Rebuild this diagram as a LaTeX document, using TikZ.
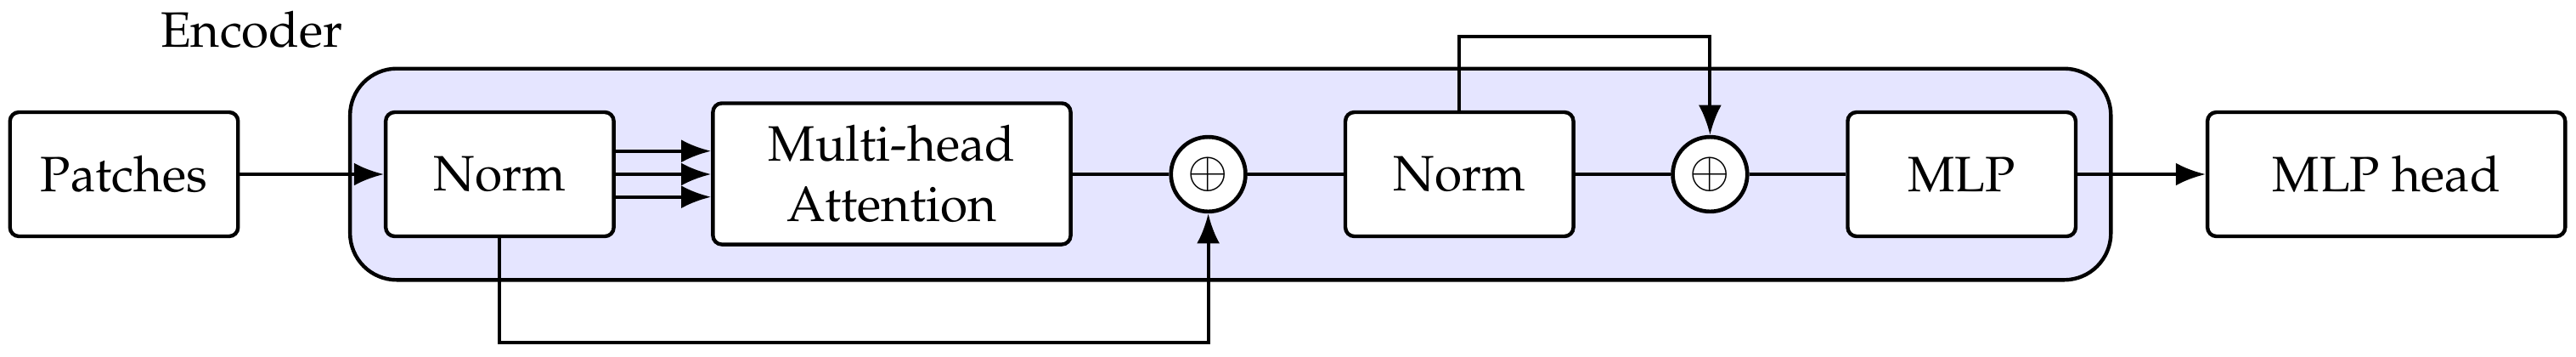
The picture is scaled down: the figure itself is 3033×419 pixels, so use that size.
\documentclass[tikz,border=0pt]{standalone}
\usepackage[T1]{fontenc}
\usepackage{mathpazo}
\usetikzlibrary{arrows.meta}
\tikzset{
  blk/.style={draw, line width=0.75pt, rounded corners=1.8pt, fill=white,
    minimum width=45.9pt, minimum height=24.96pt, inner sep=0pt, align=center},
  wideblk/.style={blk, minimum width=72pt},
  sumnode/.style={circle, draw, line width=0.8pt, fill=white, minimum size=15pt, inner sep=0pt},
  conn/.style={line width=0.7pt},
  arr/.style={conn, -{Latex[length=6pt,width=4.6pt]}},
  encframe/.style={draw, line width=0.75pt, fill=blue!10, rounded corners=9.4pt,
    minimum width=354.4pt, minimum height=42.5pt, inner sep=0pt},
}
\begin{document}
\begin{tikzpicture}[x=0.17094pt, y=-0.17094pt]
\useasboundingbox (0,0) rectangle (3033,419);
\node[encframe] (enc) at (1448.75,205) {};
\node[anchor=base] (enclabel) at (296.5,55) {Encoder};
\node[blk] (patches) at (146,205) {Patches};
\node[blk] (norm1) at (588.4,205) {Norm};
\node[wideblk, minimum height=28.4pt] (mha) at (1050,204.5) {Multi-head\\Attention};
\node[sumnode] (add1) at (1422.6,205) {$\oplus$};
\node[blk] (norm2) at (1718.3,205) {Norm};
\node[sumnode] (add2) at (2013.4,205) {$\oplus$};
\node[blk] (mlp) at (2309.7,205) {MLP};
\node[wideblk] (head) at (2809.7,205) {MLP head};

\draw[arr] (patches) -- (norm1);
\draw[arr] (norm1.east |- 0,177.7) -- (mha.west |- 0,177.7);
\draw[arr] (norm1.east) -- (mha.west |- norm1.east);
\draw[arr] (norm1.east |- 0,231.7) -- (mha.west |- 0,231.7);
\draw[conn] (mha.east |- add1.west) -- (add1.west);
\draw[conn] (add1) -- (norm2);
\draw[conn] (norm2) -- (add2);
\draw[conn] (add2) -- (mlp);
\draw[arr] (mlp) -- (head);
\draw[arr] (norm1.south) -- (norm1.south |- 0,403.3) -| (add1.south);
\draw[arr] (norm2.north) -- (norm2.north |- 0,43.3) -| (add2.north);
\end{tikzpicture}
\end{document}
